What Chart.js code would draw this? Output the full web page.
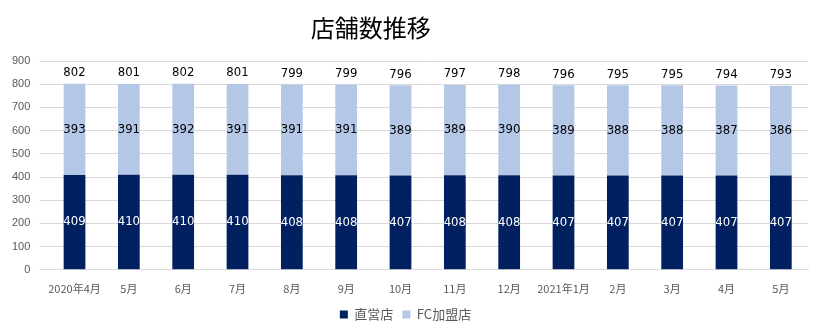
<!DOCTYPE html>
<html>
<head>
<meta charset="utf-8">
<script src="https://cdn.jsdelivr.net/npm/chart.js@4"></script>
<style>
  html, body { margin: 0; padding: 0; background: #fff; }
  #wrap { width: 819px; height: 331px; }
</style>
</head>
<body>
<div id="wrap"><canvas id="storeChart"></canvas></div>
<script>
// Data
const months = ['2020年4月', '5月', '6月', '7月', '8月', '9月', '10月', '11月', '12月', '2021年1月', '2月', '3月', '4月', '5月'];
const directStores = [409, 410, 410, 410, 408, 408, 407, 408, 408, 407, 407, 407, 407, 407];
const fcStores = [393, 391, 392, 391, 391, 391, 389, 389, 390, 389, 388, 388, 387, 386];
const yTicks = [0, 100, 200, 300, 400, 500, 600, 700, 800, 900];

const labelFont = '13px "DejaVu Sans Condensed", "Liberation Sans Narrow", sans-serif';
const jpFont = '"Noto Sans CJK JP", "Noto Sans", sans-serif';

// Title drawn over the plot, slightly left of centre like the original
const titlePlugin = {
  id: 'titleText',
  afterDraw(chart) {
    const { ctx, chartArea } = chart;
    ctx.save();
    ctx.font = '24px ' + jpFont;
    ctx.fillStyle = '#000';
    ctx.textAlign = 'center';
    ctx.textBaseline = 'middle';
    ctx.fillText('店舗数推移', chartArea.left + chartArea.width * 0.425, 28);
    ctx.restore();
  }
};

// Value labels inside segments + total above each stack
const valueLabels = {
  id: 'valueLabels',
  afterDatasetsDraw(chart) {
    const { ctx } = chart;
    ctx.save();
    ctx.font = labelFont;
    ctx.textAlign = 'center';
    ctx.textBaseline = 'middle';
    chart.data.datasets.forEach((ds, i) => {
      const meta = chart.getDatasetMeta(i);
      ctx.fillStyle = i === 0 ? '#fff' : '#000';
      meta.data.forEach((bar, j) => {
        const mid = (bar.y + bar.base) / 2;
        ctx.fillText(String(ds.data[j]), bar.x, mid);
      });
    });
    const top = chart.getDatasetMeta(1).data;
    ctx.fillStyle = '#000';
    top.forEach((bar, j) => {
      const total = directStores[j] + fcStores[j];
      ctx.fillText(String(total), bar.x, bar.y - 11);
    });
    ctx.restore();
  }
};

new Chart(document.getElementById('storeChart'), {
  type: 'bar',
  data: {
    labels: months,
    datasets: [
      { label: '直営店', data: directStores, backgroundColor: '#002060', barPercentage: 0.4, categoryPercentage: 1 },
      { label: 'FC加盟店', data: fcStores, backgroundColor: '#b4c7e7', barPercentage: 0.4, categoryPercentage: 1 }
    ]
  },
  options: {
    responsive: true,
    maintainAspectRatio: false,
    animation: false,
    layout: { padding: { top: 61, left: 3, right: 11, bottom: 0 } },
    plugins: {
      title: { display: false },
      tooltip: { enabled: false },
      legend: {
        position: 'bottom',
        labels: {
          boxWidth: 8,
          boxHeight: 8,
          padding: 9,
          color: '#595959',
          font: { family: jpFont, size: 13 }
        }
      }
    },
    scales: {
      x: {
        stacked: true,
        grid: { display: false },
        border: { color: '#d9d9d9' },
        ticks: { color: '#595959', font: { family: jpFont, size: 11 }, maxRotation: 0, autoSkip: false, padding: 4 }
      },
      y: {
        stacked: true,
        min: 0,
        max: 900,
        afterBuildTicks(axis) { axis.ticks = yTicks.map(v => ({ value: v })); },
        grid: { color: '#d9d9d9' },
        border: { display: false },
        ticks: { color: '#595959', font: { family: '"Liberation Sans", sans-serif', size: 11 }, padding: 9 }
      }
    }
  },
  plugins: [titlePlugin, valueLabels]
});
</script>
</body>
</html>
